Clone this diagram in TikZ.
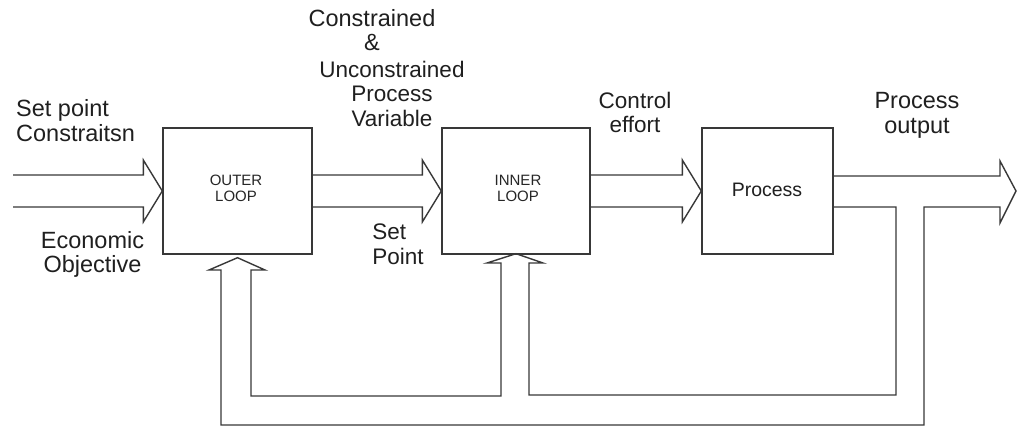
\documentclass[tikz,border=0pt]{standalone}
\usepackage{fontspec}
\setmainfont{Liberation Sans}
\usetikzlibrary{calc}

% hollow block arrow from the tail point #1 to the tip point #2
\newcommand\hollowarrow[2]{%
  \draw[flow] let \p1=(#1), \p2=(#2) in
    (\x1,\y2+16pt) -- (\x2-19pt,\y2+16pt) -- (\x2-19pt,\y2+31pt) -- (\p2)
    -- (\x2-19pt,\y2-31pt) -- (\x2-19pt,\y2-16pt) -- (\x1,\y2-16pt);}

\tikzset{
  flow/.style={draw=black!78, line width=1.4pt, line join=miter},
  block/.style={draw=black!78, line width=1.4pt, fill=white, inner sep=0pt,
    minimum height=126pt},
  lbl/.style={text=black!88, inner sep=0pt, font=\fontsize{22.5}{24.5}\selectfont},
  biglbl/.style={lbl, font=\fontsize{23.5}{24.5}\selectfont},
  tag/.style={text=black!85, inner sep=0pt, align=center,
    font=\fontsize{15}{16}\selectfont},
}

\begin{document}
\begin{tikzpicture}[x=1pt,y=-1pt]
\useasboundingbox (0,0) rectangle (1018,427);

% blocks
\node[block, minimum width=149pt] (outer) at (237.5,191) {};
\node[block, minimum width=148pt] (inner) at (516,191) {};
\node[block, minimum width=131pt] (proc) at (767.5,191) {};

\node[tag] (outerTxt) at (236,188.5) {OUTER\\LOOP};
\node[tag] (innerTxt) at (518,188.5) {INNER\\LOOP};
\node[lbl, font=\fontsize{19.5}{22}\selectfont] (procTxt) at (767,190) {Process};

% forward path
\coordinate (inL) at (13,191);
\coordinate (outTip) at (1016,191);
\hollowarrow{inL}{outer.west}
\hollowarrow{outer.east}{inner.west}
\hollowarrow{inner.east}{proc.west}

% process output with both feedback loops
\draw[flow] ($(proc.east)+(0,-15)$) -- (1000,176) -- (1000,161) -- (outTip)
  -- (1000,223) -- (1000,207) -- (924,207) -- (924,425) -- (221,425)
  -- (221,270) -- (209,270) -- ($(outer.south)+(0,3)$) -- (265,270)
  -- (251,270) -- (251,396) -- (501,396) -- (501,263) -- (487,263)
  -- ($(inner.south)+(0,-1)$) -- (543,263) -- (529,263) -- (529,395)
  -- (896,395) -- (896,207) -- ($(proc.east)+(0,16)$);

% labels
\node[biglbl, align=left, anchor=west] (spTxt) at (16,120.5) {Set point\\Constraitsn};
\node[biglbl, align=center] (ecoTxt) at (92.5,254.5) {Economic\\Objective};
\node[biglbl, align=center] (conTxt) at (372,30) {Constrained\\\&};
\node[lbl, align=center] (uncTxt) at (392,93.5) {Unconstrained\\Process\\Variable};
\node[lbl, align=left] (setTxt) at (398,244.5) {Set\\Point};
\node[lbl, align=center] (ctlTxt) at (635,112.5) {Control\\effort};
\node[biglbl, align=center] (outTxt) at (917,115.5) {Process\\output};
\end{tikzpicture}
\end{document}
